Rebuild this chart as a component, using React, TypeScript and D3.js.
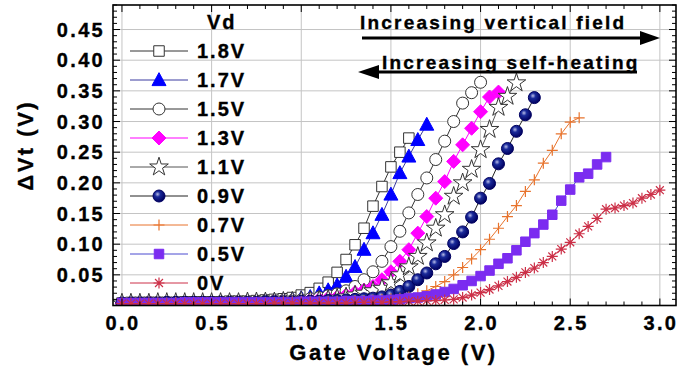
import React from 'react';
import * as d3 from 'd3';

// gate voltage sweep (V) and threshold shift per drain bias (V)
const gateVoltage = [
  0.0, 0.05, 0.1, 0.15, 0.2, 0.25, 0.3, 0.35, 0.4, 0.45,
  0.5, 0.55, 0.6, 0.65, 0.7, 0.75, 0.8, 0.85, 0.9, 0.95,
  1.0, 1.05, 1.1, 1.15, 1.2, 1.25, 1.3, 1.35, 1.4, 1.45,
  1.5, 1.55, 1.6, 1.65, 1.7, 1.75, 1.8, 1.85, 1.9, 1.95,
  2.0, 2.05, 2.1, 2.15, 2.2, 2.25, 2.3, 2.35, 2.4, 2.45,
  2.5, 2.55, 2.6, 2.65, 2.7, 2.75, 2.8, 2.85, 2.9, 2.95, 3.0,
];

const dvt18 = [
  0.004, 0.005, 0.005, 0.005, 0.005, 0.005, 0.005, 0.006, 0.006, 0.006,
  0.006, 0.006, 0.007, 0.007, 0.007, 0.008, 0.009, 0.010, 0.011, 0.013,
  0.017, 0.021, 0.028, 0.038, 0.054, 0.075, 0.099, 0.126, 0.162, 0.194,
  0.226, 0.250, 0.273,
];
const dvt17 = [
  0.004, 0.004, 0.005, 0.005, 0.005, 0.005, 0.005, 0.005, 0.005, 0.006,
  0.006, 0.006, 0.006, 0.006, 0.007, 0.007, 0.008, 0.008, 0.009, 0.010,
  0.012, 0.014, 0.020, 0.025, 0.033, 0.047, 0.063, 0.091, 0.118, 0.148,
  0.181, 0.216, 0.243, 0.270, 0.295,
];
const dvt15 = [
  0.004, 0.004, 0.004, 0.005, 0.005, 0.005, 0.005, 0.005, 0.005, 0.005,
  0.005, 0.006, 0.006, 0.006, 0.006, 0.006, 0.007, 0.007, 0.008, 0.008,
  0.009, 0.011, 0.013, 0.016, 0.019, 0.024, 0.031, 0.042, 0.055, 0.072,
  0.096, 0.121, 0.151, 0.181, 0.208, 0.238, 0.268, 0.300, 0.330, 0.347, 0.364,
];
const dvt13 = [
  0.004, 0.004, 0.004, 0.005, 0.005, 0.005, 0.005, 0.005, 0.005, 0.005,
  0.005, 0.005, 0.005, 0.006, 0.006, 0.006, 0.006, 0.007, 0.007, 0.007,
  0.008, 0.009, 0.010, 0.012, 0.014, 0.017, 0.021, 0.025, 0.031, 0.042,
  0.055, 0.072, 0.091, 0.118, 0.145, 0.175, 0.202, 0.235, 0.262, 0.289,
  0.316, 0.340, 0.348,
];
const dvt11 = [
  0.004, 0.004, 0.004, 0.004, 0.005, 0.005, 0.005, 0.005, 0.005, 0.005,
  0.005, 0.005, 0.005, 0.005, 0.006, 0.006, 0.006, 0.006, 0.007, 0.007,
  0.008, 0.008, 0.009, 0.010, 0.012, 0.014, 0.017, 0.020, 0.024, 0.028,
  0.037, 0.050, 0.063, 0.080, 0.102, 0.126, 0.148, 0.178, 0.200, 0.222,
  0.254, 0.287, 0.323, 0.341, 0.363,
];
const dvt09 = [
  0.004, 0.004, 0.004, 0.004, 0.004, 0.005, 0.005, 0.005, 0.005, 0.005,
  0.005, 0.005, 0.005, 0.005, 0.005, 0.005, 0.006, 0.006, 0.006, 0.006,
  0.007, 0.007, 0.007, 0.008, 0.008, 0.009, 0.010, 0.011, 0.012, 0.014,
  0.017, 0.023, 0.031, 0.042, 0.053, 0.068, 0.080, 0.101, 0.120, 0.144,
  0.175, 0.199, 0.231, 0.256, 0.284, 0.311, 0.339,
];
const dvt07 = [
  0.004, 0.004, 0.004, 0.004, 0.004, 0.004, 0.005, 0.005, 0.005, 0.005,
  0.005, 0.005, 0.005, 0.005, 0.005, 0.005, 0.005, 0.005, 0.006, 0.006,
  0.006, 0.006, 0.006, 0.007, 0.007, 0.007, 0.008, 0.008, 0.009, 0.010,
  0.011, 0.012, 0.014, 0.019, 0.024, 0.031, 0.039, 0.050, 0.062, 0.076,
  0.091, 0.108, 0.126, 0.145, 0.163, 0.186, 0.205, 0.232, 0.253, 0.280,
  0.299, 0.306,
];
const dvt05 = [
  0.004, 0.004, 0.004, 0.004, 0.004, 0.004, 0.004, 0.005, 0.005, 0.005,
  0.005, 0.005, 0.005, 0.005, 0.005, 0.005, 0.005, 0.005, 0.005, 0.005,
  0.006, 0.006, 0.006, 0.006, 0.006, 0.007, 0.007, 0.007, 0.008, 0.008,
  0.009, 0.010, 0.012, 0.013, 0.015, 0.018, 0.022, 0.027, 0.033, 0.040,
  0.048, 0.057, 0.068, 0.077, 0.090, 0.104, 0.118, 0.132, 0.148, 0.171,
  0.189, 0.209, 0.215, 0.230, 0.242,
];
const dvt00 = [
  0.003, 0.003, 0.003, 0.003, 0.003, 0.003, 0.003, 0.003, 0.003, 0.003,
  0.003, 0.003, 0.003, 0.003, 0.003, 0.003, 0.003, 0.004, 0.004, 0.004,
  0.004, 0.004, 0.004, 0.004, 0.004, 0.004, 0.005, 0.005, 0.005, 0.005,
  0.006, 0.006, 0.007, 0.007, 0.008, 0.008, 0.009, 0.010, 0.013, 0.017,
  0.021, 0.026, 0.032, 0.039, 0.046, 0.054, 0.061, 0.070, 0.080, 0.092,
  0.103, 0.117, 0.129, 0.142, 0.157, 0.159, 0.163, 0.167, 0.175, 0.181, 0.188,
];

const seriesNames = ['1.8V', '1.7V', '1.5V', '1.3V', '1.1V', '0.9V', '0.7V', '0.5V', '0V'];
const seriesValues = [dvt18, dvt17, dvt15, dvt13, dvt11, dvt09, dvt07, dvt05, dvt00];

// marker style per series
const styles = [
  { shape: 'square', size: 10.5, fill: '#fff', stroke: '#333', line: '#333' },
  { shape: 'triangle', size: 14, fill: '#0000ff', stroke: '#0000ff', line: '#3a3aa0' },
  { shape: 'circle', size: 12, fill: '#fff', stroke: '#333', line: '#333' },
  { shape: 'diamond', size: 14, fill: '#ff00ff', stroke: '#ff00ff', line: '#ff00ff' },
  { shape: 'star', size: 14, fill: '#fff', stroke: '#333', line: '#555' },
  { shape: 'sphere', size: 12, fill: 'url(#sphere)', stroke: '#000060', line: '#222' },
  { shape: 'plus', size: 11, fill: 'none', stroke: '#e8732c', line: '#e8732c' },
  { shape: 'square', size: 9.5, fill: '#7b2cf0', stroke: '#7b2cf0', line: '#4a4ad0' },
  { shape: 'asterisk', size: 11, fill: 'none', stroke: '#cc3048', line: '#cc3048' },
];

const W = 689;
const H = 368;
const plot = { left: 113, right: 676, top: 5, bottom: 305.5 };
const font = '"Liberation Sans", Arial, sans-serif';

const markerPath = (shape: string, s: number) => {
  const h = s / 2;
  switch (shape) {
    case 'square':
      return `M${-h},${-h}H${h}V${h}H${-h}Z`;
    case 'triangle':
      return `M0,${-h * 1.05}L${h},${h * 0.8}L${-h},${h * 0.8}Z`;
    case 'diamond':
      return `M0,${-h}L${h},0L0,${h}L${-h},0Z`;
    case 'star':
      return d3.symbol(d3.symbolStar, s * s * 0.55)() as string;
    case 'plus':
      return `M${-h},0H${h}M0,${-h}V${h}`;
    case 'asterisk': {
      const d = h * 0.72;
      return `M${-h},0H${h}M0,${-h}V${h}M${-d},${-d}L${d},${d}M${-d},${d}L${d},${-d}`;
    }
    default:
      return d3.symbol(d3.symbolCircle, Math.PI * h * h)() as string;
  }
};

const Marker = ({ st, x, y }: any) => (
  <path
    transform={`translate(${x},${y})`}
    d={markerPath(st.shape, st.size)}
    fill={st.fill}
    stroke={st.stroke}
    strokeWidth={st.shape === 'plus' || st.shape === 'asterisk' ? 1.2 : 1}
  />
);

export default function App() {
  const x = d3.scaleLinear().domain([-0.05, 3.09]).range([plot.left, plot.right]);
  const y = d3.scaleLinear().domain([0, 0.49]).range([plot.bottom, plot.top]);

  const xMajor = x.ticks(6);
  const xMinor = x.ticks(30);
  const yMajor = y.ticks(10).filter((d) => d > 0);
  const yMinor = y.ticks(50);

  const line = d3
    .line<number>()
    .x((_, i) => x(gateVoltage[i]))
    .y((d) => y(d));

  // bold text, slightly thickened with a thin stroke
  const bold = { fontFamily: font, fontWeight: 'bold', stroke: '#000', strokeWidth: 0.35 } as const;
  const tickFont = { ...bold, fontSize: 20, letterSpacing: 2.3 } as const;

  return (
    <svg width={W} height={H} style={{ position: 'absolute', left: 0, top: 0, background: '#fff' }}>
      <defs>
        <clipPath id="plotClip">
          <rect x={plot.left} y={plot.top} width={plot.right - plot.left} height={plot.bottom - plot.top} />
        </clipPath>
        <radialGradient id="sphere" cx="0.38" cy="0.35" r="0.65">
          <stop offset="0" stopColor="#b8bce8" />
          <stop offset="0.35" stopColor="#1a2a9a" />
          <stop offset="1" stopColor="#000060" />
        </radialGradient>
      </defs>

      {/* grid */}
      <g stroke="#c4c4c4" strokeWidth={1}>
        {xMajor.map((d) => (
          <line key={`gx${d}`} x1={x(d)} x2={x(d)} y1={plot.top} y2={plot.bottom} />
        ))}
        {yMajor.map((d) => (
          <line key={`gy${d}`} x1={plot.left} x2={plot.right} y1={y(d)} y2={y(d)} />
        ))}
      </g>

      {/* curves */}
      <g clipPath="url(#plotClip)">
        {seriesValues.map((vals, si) => (
          <g key={seriesNames[si]}>
            <path d={line(vals) as string} fill="none" stroke={styles[si].line} strokeWidth={1} />
            {vals.map((v, i) => (
              <Marker key={i} st={styles[si]} x={x(gateVoltage[i])} y={y(v)} />
            ))}
          </g>
        ))}
      </g>

      {/* ticks, all pointing inward */}
      <g stroke="#000" strokeWidth={1}>
        {xMinor.map((d) => {
          const major = xMajor.some((m) => Math.abs(m - d) < 1e-6);
          const len = major ? 7 : 4;
          return (
            <g key={`tx${d}`}>
              <line x1={x(d)} x2={x(d)} y1={plot.bottom} y2={plot.bottom - len} />
              <line x1={x(d)} x2={x(d)} y1={plot.top} y2={plot.top + len} />
            </g>
          );
        })}
        {yMinor.map((d) => {
          const major = Math.abs(Math.round(d * 20) - d * 20) < 1e-6;
          const len = major ? 7 : 4;
          return (
            <g key={`ty${d}`}>
              <line x1={plot.left} x2={plot.left + len} y1={y(d)} y2={y(d)} />
              <line x1={plot.right} x2={plot.right - len} y1={y(d)} y2={y(d)} />
            </g>
          );
        })}
      </g>

      <rect
        x={plot.left}
        y={plot.top}
        width={plot.right - plot.left}
        height={plot.bottom - plot.top}
        fill="none"
        stroke="#000"
        strokeWidth={1.6}
      />

      {/* tick labels */}
      {xMajor.map((d) => (
        <text key={`lx${d}`} x={x(d) + 1} y={plot.bottom + 24} textAnchor="middle" {...tickFont}>
          {d3.format('.1f')(d)}
        </text>
      ))}
      {yMajor.map((d) => (
        <text key={`ly${d}`} x={plot.left - 8} y={y(d) + 7} textAnchor="end" {...tickFont}>
          {d3.format('.2f')(d)}
        </text>
      ))}

      {/* axis titles */}
      <text
        x={(plot.left + plot.right) / 2 - 1}
        y={360}
        textAnchor="middle"
        {...bold}
        fontSize={22}
        letterSpacing={2.5}
      >
        Gate Voltage (V)
      </text>
      <text
        transform={`translate(33,${(plot.top + plot.bottom) / 2 - 10}) rotate(-90)`}
        textAnchor="middle"
        {...bold}
        fontSize={22}
        letterSpacing={2.5}
      >
        ΔVt (V)
      </text>

      {/* legend */}
      <text x={207} y={29} {...bold} fontSize={20} letterSpacing={2}>
        Vd
      </text>
      {seriesNames.map((name, i) => {
        const ly = 51 + i * 29;
        return (
          <g key={`lg${name}`}>
            <line x1={130} x2={188} y1={ly} y2={ly} stroke={styles[i].line} strokeWidth={1} />
            <Marker st={styles[i]} x={159} y={ly} />
            <text x={197} y={ly + 7} {...bold} fontSize={20} letterSpacing={2}>
              {name}
            </text>
          </g>
        );
      })}

      {/* annotations */}
      <text x={360} y={29} {...bold} fontSize={19} letterSpacing={2.2}>
        Increasing vertical field
      </text>
      <line x1={362} x2={644} y1={38} y2={38} stroke="#000" strokeWidth={3} />
      <path d="M660,38L640,31L640,45Z" fill="#000" />

      <text x={382} y={69} {...bold} fontSize={19} letterSpacing={2.2}>
        Increasing self-heating
      </text>
      <line x1={376} x2={637} y1={72} y2={72} stroke="#000" strokeWidth={3} />
      <path d="M358,72L379,65L379,79Z" fill="#000" />
    </svg>
  );
}
